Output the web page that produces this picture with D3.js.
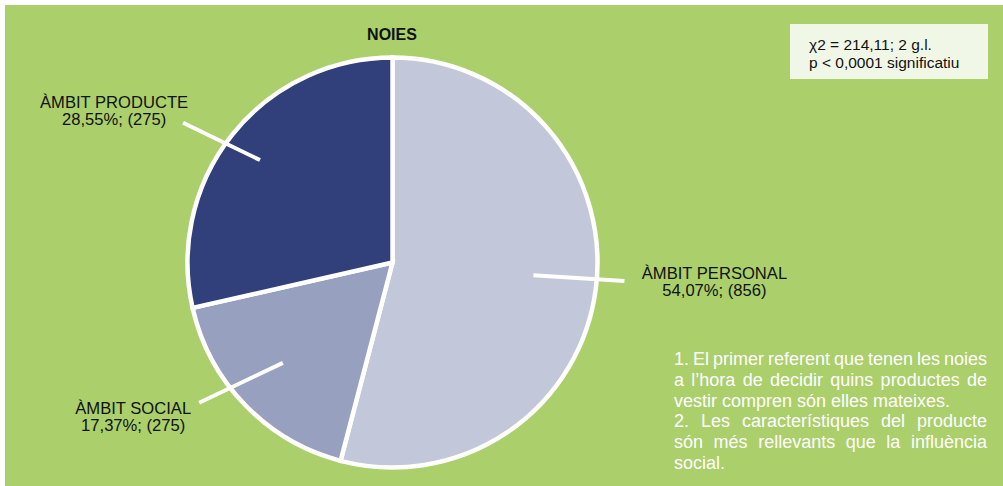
<!DOCTYPE html>
<html>
<head>
<meta charset="utf-8">
<script src="https://cdn.jsdelivr.net/npm/d3@7"></script>
<style>
  html, body { margin: 0; padding: 0; background: #ffffff; }
  svg { display: block; }
  text { font-family: "Liberation Sans", Arial, Helvetica, sans-serif; }
</style>
</head>
<body>
<svg id="chart" width="1003" height="486"></svg>
<script>
// Categories and shares (percent) for girls' first reference when buying clothes
const categories = ["ÀMBIT PERSONAL", "ÀMBIT SOCIAL", "ÀMBIT PRODUCTE"];
const shares = [54.07, 17.37, 28.55];
const counts = [856, 275, 275];
const colors = ["#c2c7da", "#97a0bf", "#313f7b"];

const title = "NOIES";
const statLines = ["χ2 = 214,11; 2 g.l.", "p < 0,0001 significatiu"];
const noteLines = [
  "1. El primer referent que tenen les noies",
  "a l’hora de decidir quins productes de",
  "vestir compren són elles mateixes.",
  "2. Les característiques del producte",
  "són més rellevants que la influència",
  "social."
];
const noteJustified = [true, true, false, true, true, false];

const svg = d3.select("#chart");
const W = 1003, H = 486;

// Panel background
svg.append("rect")
  .attr("x", 5).attr("y", 5)
  .attr("width", W - 5).attr("height", H - 5)
  .attr("fill", "#aacf6b");

// Title
svg.append("text")
  .attr("x", 392).attr("y", 40)
  .attr("text-anchor", "middle")
  .attr("font-size", 16).attr("font-weight", "bold")
  .attr("fill", "#111")
  .text(title);

// Pie
const cx = 392.5, cy = 262.5, R = 205;
const g = svg.append("g").attr("transform", `translate(${cx},${cy})`);

const pie = d3.pie().sort(null).value(d => d.share);
const data = categories.map((c, i) => ({ cat: c, share: shares[i], count: counts[i], color: colors[i] }));
const arcs = pie(data);
const arc = d3.arc().innerRadius(0).outerRadius(R);

g.selectAll("path.slice")
  .data(arcs)
  .join("path")
  .attr("class", "slice")
  .attr("d", arc)
  .attr("fill", d => d.data.color)
  .attr("stroke", "#ffffff")
  .attr("stroke-width", 4.5)
  .attr("stroke-linejoin", "miter");

// Leader lines: polar offsets (degrees) from each slice's mid angle and radii as fraction of R
const leaderLayout = [
  { a0: -2.2, r0: 0.69, a1: -2.8, r1: 1.135, ldx: 90, ldy: -2 },
  { a0: 1.6, r0: 0.725, a1: 8.1, r1: 1.165, ldx: -66, ldy: 11 },
  { a0: -0.9, r0: 0.817, a1: -4.9, r1: 1.228, ldx: -69, ldy: -15 }
];
const polar = (ang, r) => [r * Math.sin(ang), -r * Math.cos(ang)];
const deg = Math.PI / 180;

arcs.forEach((d, i) => {
  const L = leaderLayout[i];
  const mid = (d.startAngle + d.endAngle) / 2;
  const p0 = polar(mid + L.a0 * deg, L.r0 * R);
  const p1 = polar(mid + L.a1 * deg, L.r1 * R);
  g.append("line")
    .attr("x1", p0[0]).attr("y1", p0[1])
    .attr("x2", p1[0]).attr("y2", p1[1])
    .attr("stroke", "#ffffff")
    .attr("stroke-width", 4);

  const pct = d.data.share.toFixed(2).replace(".", ",") + "%; (" + d.data.count + ")";
  const t = g.append("text")
    .attr("text-anchor", "middle")
    .attr("font-size", 16.6)
    .attr("fill", "#111");
  t.append("tspan").attr("x", p1[0] + L.ldx).attr("y", p1[1] + L.ldy).text(d.data.cat);
  t.append("tspan").attr("x", p1[0] + L.ldx).attr("dy", 17.5).text(pct);
});

// Statistic box
svg.append("rect")
  .attr("x", 790).attr("y", 24)
  .attr("width", 198).attr("height", 55)
  .attr("fill", "#f1f7e7");
const st = svg.append("text").attr("font-size", 15.5).attr("fill", "#111");
statLines.forEach((s, i) => {
  st.append("tspan").attr("x", 809).attr("y", 50 + i * 18).text(s);
});

// Footnote, justified like a text column
const noteX = 674, noteW = 313;
noteLines.forEach((s, i) => {
  const t = svg.append("text")
    .attr("x", noteX).attr("y", 365 + i * 20.8)
    .attr("font-size", 18)
    .attr("fill", "#ffffff")
    .text(s);
  if (noteJustified[i]) {
    const nat = t.node().getComputedTextLength();
    const gaps = s.split(" ").length - 1;
    if (gaps > 0) t.attr("word-spacing", (noteW - nat) / gaps);
  }
});
</script>
</body>
</html>
